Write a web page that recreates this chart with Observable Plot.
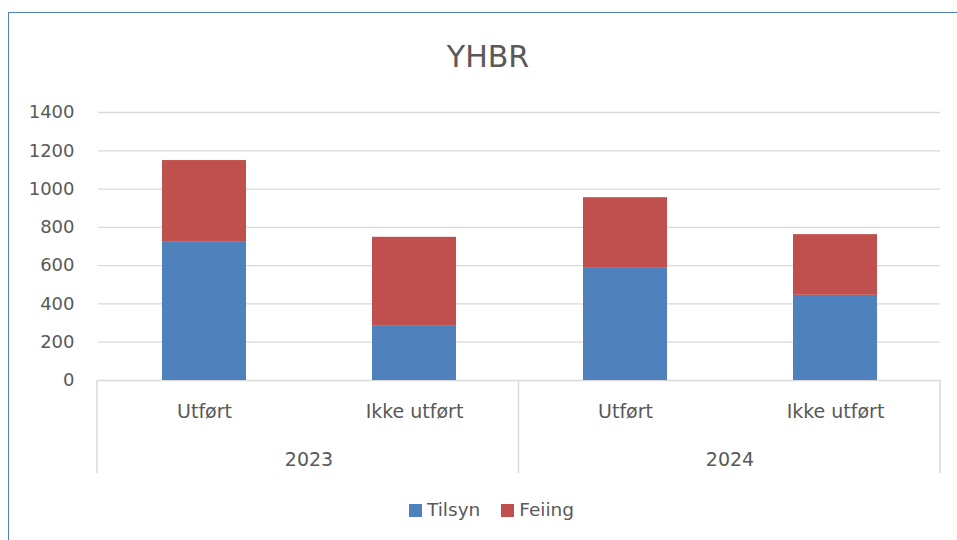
<!DOCTYPE html>
<html>
<head>
<meta charset="utf-8">
<script src="https://cdn.jsdelivr.net/npm/d3@7"></script>
<script src="https://cdn.jsdelivr.net/npm/@observablehq/plot@0.6"></script>
<style>
  html, body { margin: 0; padding: 0; background: #fff; }
  body { width: 957px; height: 540px; position: relative; overflow: hidden;
         font-family: "DejaVu Sans", sans-serif; color: #595959; }
  #frame { position: absolute; left: 8px; top: 12px; width: 960px; height: 600px;
           border-left: 1.5px solid #4F81BD; border-top: 1.5px solid #4F81BD; box-sizing: border-box; }
  #title { position: absolute; left: 8px; width: 960px; top: 41.6px; text-align: center;
           font-size: 30px; line-height: 30px; }
  #chart { position: absolute; left: 0; top: 90px; }
  #legend { position: absolute; left: 409px; top: 501px; display: flex; align-items: center;
            font-size: 18.5px; line-height: 18px; }
  .item { display: flex; align-items: center; }
  .sw { width: 13px; height: 13px; margin-right: 5px; }
</style>
</head>
<body>
<div id="frame"></div>
<div id="title">YHBR</div>
<div id="chart"></div>
<div id="legend"></div>
<script>
const years = ["2023", "2023", "2024", "2024"];
const categories = ["Utført", "Ikke utført", "Utført", "Ikke utført"];
const tilsyn = [722, 283, 586, 445];
const feiing = [427, 465, 369, 317];
const seriesNames = ["Tilsyn", "Feiing"];
const seriesColors = ["#4F81BD", "#C0504D"];
const yTicks = [0, 200, 400, 600, 800, 1000, 1200, 1400];

const data = [];
years.forEach((yr, i) => {
  data.push({year: yr, cat: categories[i], series: "Tilsyn", value: tilsyn[i]});
  data.push({year: yr, cat: categories[i], series: "Feiing", value: feiing[i]});
});

const W = 957, H = 395;
const chart = Plot.plot({
  width: W,
  height: H,
  marginTop: 22,
  marginBottom: 105,
  marginLeft: 97,
  marginRight: 17,
  style: {fontFamily: "DejaVu Sans, sans-serif", fontSize: "18px", color: "#595959", background: "transparent"},
  fx: {domain: ["2023", "2024"], padding: 0},
  x: {domain: ["Utført", "Ikke utført"], paddingInner: 0.6, paddingOuter: 0.3},
  y: {domain: [0, 1400]},
  color: {domain: seriesNames, range: seriesColors},
  marks: [
    Plot.gridY(yTicks, {stroke: "#D9D9D9", strokeOpacity: 1, strokeWidth: 1.3}),
    Plot.barY(data, Plot.stackY({fx: "year", x: "cat", y: "value", fill: "series"})),
    Plot.axisY(yTicks, {tickSize: 0, tickPadding: 24, tickFormat: d3.format("d"), label: null, fill: "#595959"}),
    Plot.axisX({anchor: "bottom", tickSize: 0, tickPadding: 23.5, label: null, fill: "#595959", fontSize: 19}),
    Plot.axisFx({anchor: "bottom", tickSize: 0, tickPadding: 71.5, label: null, fill: "#595959", fontSize: 19})
  ]
});
document.getElementById("chart").appendChild(chart);

// category dividers below the axis, positioned from the fx scale
const fx = chart.scale("fx");
const y = chart.scale("y");
const band = d3.scaleBand().domain(fx.domain).range(fx.range).padding(0);
const edges = fx.domain.map(d => band(d)).concat([band(fx.domain[fx.domain.length - 1]) + band.bandwidth()]);
const y0 = y.range[0];
d3.select(chart).append("g")
  .selectAll("line").data(edges).join("line")
  .attr("x1", d => d).attr("x2", d => d)
  .attr("y1", y0).attr("y2", y0 + 93)
  .attr("stroke", "#D9D9D9").attr("stroke-width", 1.5);

// legend
const leg = d3.select("#legend");
seriesNames.forEach((s, i) => {
  const it = leg.append("div").attr("class", "item").style("margin-right", i === 0 ? "21px" : "0");
  it.append("div").attr("class", "sw").style("background", seriesColors[i]);
  it.append("span").text(s);
});
</script>
</body>
</html>
